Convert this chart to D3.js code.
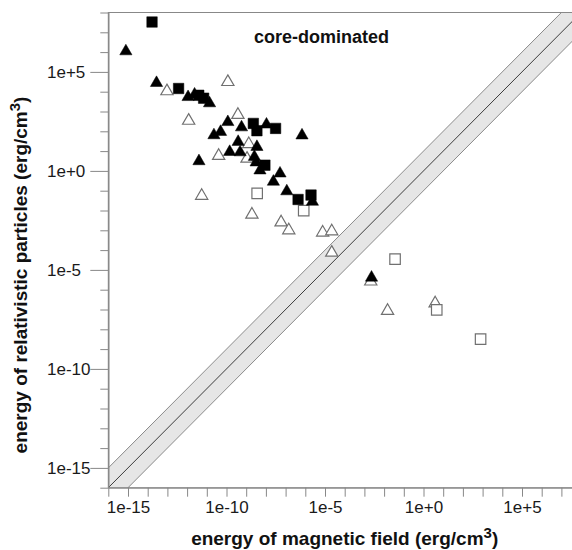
<!DOCTYPE html>
<html>
<head>
<meta charset="utf-8">
<script src="https://cdn.jsdelivr.net/npm/d3@7"></script>
<style>
    body { margin: 0; background: #ffffff; }
    svg { display: block; font-family: "Liberation Sans", Arial, sans-serif; }
</style>
</head>
<body>
<svg id="grafico"></svg>
<script>
// valores (erg/cm3)
const filledSquareX = [1.66e-14, 3.7e-13, 3.9e-12, 6.9e-12, 2.3e-9, 3.5e-9, 3.1e-8, 8.9e-9, 4.3e-7, 1.95e-6];
const filledSquareY = [3.3e7, 1.45e4, 6.6e3, 4.7e3, 2.5e2, 1.07e2, 1.4e2, 1.95, 3.6e-2, 6.0e-2];

const filledTriX = [7.8e-16, 2.8e-14, 1.12e-12, 2.4e-12, 1.38e-11, 1.17e-10, 5.8e-10, 1.07e-8, 6.8e-7, 2.3e-11,
                    5.0e-11, 3.9e-10, 1.45e-10, 4.9e-10, 4.0e-12, 3.5e-9, 2.6e-9, 3.2e-9, 5.0e-9, 5.2e-8,
                    2.4e-8, 1.15e-7, 2.3e-6, 2.3e-3];
const filledTriY = [1.35e6, 3.4e4, 6.6e3, 8.9e3, 3.2e3, 3.6e2, 1.95e2, 2.7e2, 76, 78,
                    1.15e2, 36, 11.2, 10.7, 3.8, 20, 6.3, 3.3, 1.3, 0.91,
                    0.35, 0.115, 3.4e-2, 5.0e-6];

const openTriX = [1.17e-10, 9.5e-14, 1.2e-12, 3.8e-10, 1.35e-9, 4.0e-11, 1.1e-9, 5.5e-12, 1.95e-9, 5.9e-8,
                  1.45e-7, 7.6e-6, 2.2e-5, 2.2e-5, 2.1e-3, 1.5e-2, 3.9];
const openTriY = [3.8e4, 1.3e4, 4.2e2, 8.3e2, 28, 7.1, 5.1, 6.8e-2, 7.6e-3, 3.1e-3,
                  1.23e-3, 9.5e-4, 1.1e-3, 9.1e-5, 3.2e-6, 1.05e-7, 2.5e-7];

const openSquareX = [3.6e-9, 8.3e-7, 3.6e-2, 4.7, 7.9e2];
const openSquareY = [7.4e-2, 9.8e-3, 3.5e-5, 9.5e-8, 3.2e-9];

// banda de equiparticion: factor 10 arriba y abajo de y = x
const bandFactor = [0.1, 1, 10];
const decades = d3.range(-16, 9);
const labeledDecades = [-15, -10, -5, 0, 5];

const ancho = 572;
const alto = 550;
const izq = 108.3;
const der = 581.1;
const arriba = 12.5;
const abajo = 487.7;

const svg = d3.select('#grafico').attr('width', ancho).attr('height', alto);

const escalaX = d3.scaleLog().domain([1e-16, 1e8]).range([izq, der]);
const escalaY = d3.scaleLog().domain([1e-16, 1e8]).range([abajo, arriba]);

svg.append('clipPath').attr('id', 'recorte')
    .append('rect')
    .attr('x', izq).attr('y', arriba)
    .attr('width', der - izq).attr('height', abajo - arriba);

// banda gris
const xsBanda = [1e-18, 1e10];
const area = d3.area()
    .x(d => escalaX(d))
    .y0(d => escalaY(d * bandFactor[0]))
    .y1(d => escalaY(d * bandFactor[2]));

const gBanda = svg.append('g').attr('clip-path', 'url(#recorte)');
gBanda.append('path')
    .attr('d', area(xsBanda))
    .attr('fill', '#e6e6e6');

bandFactor.forEach(function (f, i) {
    const linea = d3.line().x(d => escalaX(d)).y(d => escalaY(d * f));
    gBanda.append('path')
        .attr('d', linea(xsBanda))
        .attr('fill', 'none')
        .attr('stroke', i === 1 ? '#3c3c3c' : '#8a8a8a')
        .attr('stroke-width', 1);
});

// marco
svg.append('rect')
    .attr('x', izq).attr('y', arriba)
    .attr('width', der - izq).attr('height', abajo - arriba)
    .attr('fill', 'none')
    .attr('stroke', '#888888')
    .attr('stroke-width', 1);

// ejes
const fmt = function (d) {
    const e = Math.round(Math.log10(d));
    return '1e' + (e < 0 ? '-' + (-e) : '+' + e);
};
const esMayor = d => labeledDecades.indexOf(Math.round(Math.log10(d))) >= 0;
const valores = decades.map(e => Math.pow(10, e));

const ejeX = d3.axisBottom(escalaX)
    .tickValues(valores)
    .tickSize(9)
    .tickSizeOuter(0)
    .tickPadding(4.5)
    .tickFormat(d => esMayor(d) ? fmt(d) : '');

const gX = svg.append('g')
    .attr('transform', 'translate(0,' + abajo + ')')
    .style('font-size', '17px')
    .call(ejeX);

const ejeYmenor = d3.axisLeft(escalaY)
    .tickValues(valores.filter(d => !esMayor(d)))
    .tickSize(8)
    .tickSizeOuter(0)
    .tickFormat('');
const gY = svg.append('g')
    .attr('transform', 'translate(' + izq + ',0)')
    .call(ejeYmenor);

const ejeYmayor = d3.axisLeft(escalaY)
    .tickValues(valores.filter(esMayor))
    .tickSize(18)
    .tickSizeOuter(0)
    .tickFormat(fmt);
const gY2 = svg.append('g')
    .attr('transform', 'translate(' + izq + ',0)')
    .style('font-size', '17px')
    .call(ejeYmayor);
gY2.selectAll('text')
    .attr('text-anchor', 'start')
    .attr('x', 47 - izq);

svg.selectAll('.domain').attr('stroke', '#888888');
svg.selectAll('.tick line').attr('stroke', '#888888');
svg.selectAll('.tick text').attr('fill', '#1a1a1a').style('font-family', '"Liberation Sans", Arial, sans-serif');

// simbolos
const triangulo = {
    draw: function (ctx, size) {
        const lado = Math.sqrt(size);
        const h = lado * Math.sqrt(3) / 2;
        ctx.moveTo(0, -h / 2);
        ctx.lineTo(lado / 2, h / 2);
        ctx.lineTo(-lado / 2, h / 2);
        ctx.closePath();
    }
};
const cuadrado = d3.symbol().type(d3.symbolSquare).size(110);
const tri = d3.symbol().type(triangulo).size(150);

const gPuntos = svg.append('g').attr('clip-path', 'url(#recorte)');

function dibuja (xs, ys, generador, relleno) {
    gPuntos.append('g')
        .selectAll('path')
        .data(xs).enter()
        .append('path')
        .attr('d', generador)
        .attr('transform', function (d, i) {
            return 'translate(' + escalaX(d) + ',' + escalaY(ys[i]) + ')';
        })
        .attr('fill', relleno ? '#000000' : '#ffffff')
        .attr('stroke', relleno ? '#000000' : '#707070')
        .attr('stroke-width', relleno ? 0.5 : 1.2);
}

dibuja(openTriX, openTriY, tri, false);
dibuja(openSquareX, openSquareY, cuadrado, false);
dibuja(filledTriX, filledTriY, tri, true);
dibuja(filledSquareX, filledSquareY, cuadrado, true);

// textos
svg.append('text')
    .attr('x', 254).attr('y', 43.3)
    .style('font-size', '18px')
    .style('font-weight', 'bold')
    .attr('fill', '#111111')
    .text('core-dominated');

const tituloX = svg.append('text')
    .attr('x', (izq + der) / 2).attr('y', 545)
    .attr('text-anchor', 'middle')
    .style('font-size', '19px')
    .style('font-weight', 'bold')
    .attr('fill', '#111111');
tituloX.append('tspan').text('energy of magnetic field (erg/cm');
tituloX.append('tspan').attr('dy', -7).style('font-size', '15px').text('3');
tituloX.append('tspan').attr('dy', 7).text(')');

const tituloY = svg.append('text')
    .attr('transform', 'translate(27,275) rotate(-90)')
    .attr('text-anchor', 'middle')
    .style('font-size', '19px')
    .style('font-weight', 'bold')
    .attr('fill', '#111111');
tituloY.append('tspan').text('energy of relativistic particles (erg/cm');
tituloY.append('tspan').attr('dy', -7).style('font-size', '15px').text('3');
tituloY.append('tspan').attr('dy', 7).text(')');
</script>
</body>
</html>
